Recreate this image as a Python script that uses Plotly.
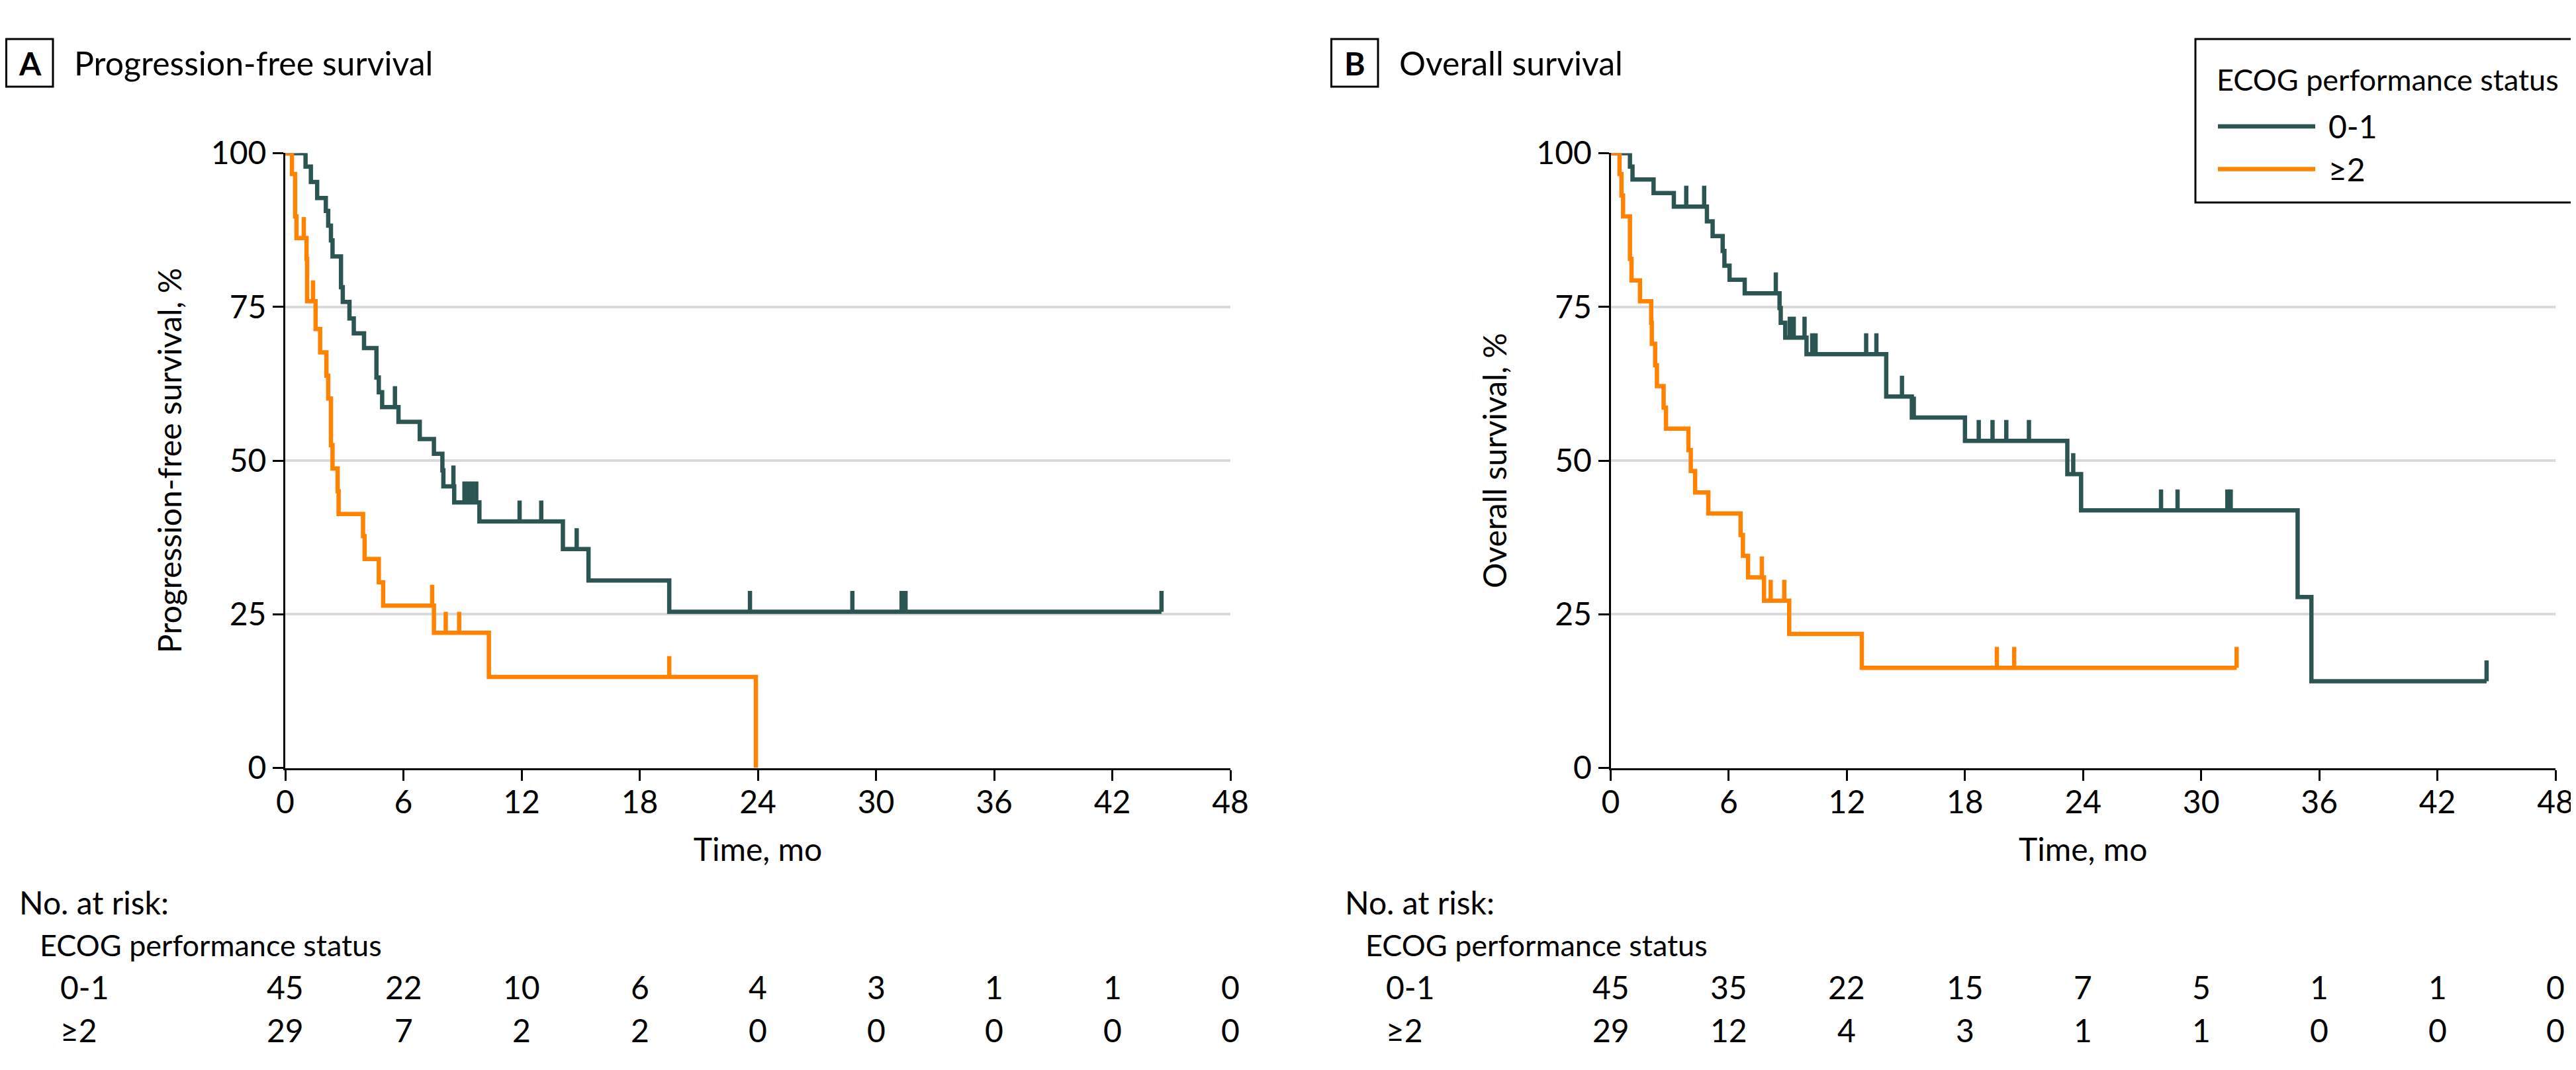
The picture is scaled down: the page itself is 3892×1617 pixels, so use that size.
import plotly.graph_objects as go

# ---------------- data ----------------
time_ticks = [0, 6, 12, 18, 24, 30, 36, 42, 48]
y_ticks = [0, 25, 50, 75, 100]
groups = ["0-1", "≥2"]
legend_title = "ECOG performance status"

# Progression-free survival, ECOG 0-1
pfs_01_t = [1.03, 1.3, 1.62, 2.06, 2.18, 2.32, 2.40, 2.83, 2.92, 3.26, 3.48, 4.00, 4.63, 4.75,
            4.92, 5.75, 6.83, 7.55, 7.98, 8.03, 8.58, 9.86, 14.1, 15.4, 19.5]
pfs_01_s = [97.8, 95.3, 92.7, 90.6, 88.2, 85.8, 83.2, 78.2, 75.8, 73.1, 70.7, 68.3, 63.5, 61.1,
            58.7, 56.3, 53.5, 51.1, 48.4, 45.8, 43.2, 40.1, 35.6, 30.5, 25.4]
pfs_01_c = [0.7, 0.8, 0.9, 1.0, 5.57, 8.54, 9.1, 9.3, 9.5, 9.7, 11.9, 13.0, 14.8, 23.6, 28.8,
            31.3, 31.5, 44.5]

# Progression-free survival, ECOG >=2
pfs_2_t = [0.34, 0.50, 0.57, 1.08, 1.11, 1.54, 1.77, 2.09, 2.18, 2.32, 2.40, 2.66, 2.71, 3.95,
           4.03, 4.75, 4.97, 7.55, 10.34, 23.9]
pfs_2_s = [96.6, 89.7, 86.2, 82.8, 75.9, 71.4, 67.6, 63.8, 60.1, 52.5, 48.7, 45.0, 41.3, 37.7,
           34.0, 30.2, 26.4, 22.0, 14.8, 0.0]
pfs_2_c = [0.94, 1.41, 7.46, 8.15, 8.83, 19.5]

# Overall survival, ECOG 0-1
os_01_t = [0.98, 1.11, 2.18, 3.21, 4.89, 5.18, 5.69, 5.78, 6.04, 6.81, 8.58, 8.64, 8.87, 9.95,
           14.0, 15.3, 18.0, 23.2, 23.9, 34.9, 35.6]
os_01_s = [97.8, 95.7, 93.5, 91.3, 88.9, 86.5, 84.1, 81.7, 79.4, 77.2, 74.8, 72.4, 70.0, 67.3,
           60.4, 57.0, 53.2, 47.8, 41.9, 27.8, 14.1]
os_01_c = [3.84, 4.75, 8.39, 9.1, 9.3, 9.85, 10.24, 10.41, 12.98, 13.5, 14.8, 15.4, 18.7, 19.4,
           20.1, 21.25, 23.5, 27.96, 28.8, 31.33, 31.5, 44.5]

# Overall survival, ECOG >=2
os_2_t = [0.45, 0.55, 0.63, 0.98, 1.06, 1.49, 2.06, 2.09, 2.26, 2.35, 2.69, 2.81, 3.95, 4.07,
          4.29, 4.96, 6.60, 6.72, 6.98, 7.79, 9.07, 12.76]
os_2_s = [96.6, 93.1, 89.7, 82.8, 79.3, 75.9, 72.4, 69.0, 65.5, 62.1, 58.6, 55.2, 51.7, 48.3,
          44.8, 41.4, 37.9, 34.5, 31.0, 27.2, 21.8, 16.3]
os_2_c = [7.68, 8.13, 8.82, 19.62, 20.5, 31.8]

# Number at risk
risk_pfs_01 = [45, 22, 10, 6, 4, 3, 1, 1, 0]
risk_pfs_2 = [29, 7, 2, 2, 0, 0, 0, 0, 0]
risk_os_01 = [45, 35, 22, 15, 7, 5, 1, 1, 0]
risk_os_2 = [29, 12, 4, 3, 1, 1, 0, 0, 0]

# ---------------- style ----------------
DARK = "#2b5553"
ORANGE = "#ff8200"
COLORS = [DARK, ORANGE]
FONT = "Lato"
FS = 48
FS_SMALL = 45
LW = 6.5
CENSOR_H = 3.4
W, H = 3892, 1617


def step_xy(times, surv, cens):
    end = max(times[-1], max(cens))
    return [0] + times + [end], [100] + surv + [surv[-1]]


def surv_at(times, surv, t):
    val = 100
    for ti, si in zip(times, surv):
        if ti <= t:
            val = si
    return val


fig = go.Figure()

panels = [
    ("x", "y", [(pfs_01_t, pfs_01_s, pfs_01_c, DARK, groups[0]),
                (pfs_2_t, pfs_2_s, pfs_2_c, ORANGE, groups[1])]),
    ("x2", "y2", [(os_01_t, os_01_s, os_01_c, DARK, groups[0]),
                  (os_2_t, os_2_s, os_2_c, ORANGE, groups[1])]),
]

for xa, ya, curves in panels:
    for t, s, c, col, name in curves:
        sx, sy = step_xy(t, s, c)
        fig.add_trace(go.Scatter(
            x=sx, y=sy, mode="lines", line=dict(color=col, width=LW, shape="hv"),
            name=name, legendgroup=name, showlegend=False, xaxis=xa, yaxis=ya,
            cliponaxis=False, hoverinfo="skip"))
        fig.add_trace(go.Scatter(
            x=c, y=[surv_at(t, s, ci) for ci in c], mode="markers",
            marker=dict(size=1, color=col, opacity=0),
            error_y=dict(type="constant", value=CENSOR_H, symmetric=False, valueminus=0,
                         thickness=LW, width=0, color=col),
            name=name + " censored", showlegend=False, legendgroup=name, xaxis=xa, yaxis=ya,
            cliponaxis=False, hoverinfo="skip"))

px = lambda v: v / W
py = lambda v: 1 - v / H

xdomA = [px(423), px(1851)]
xdomB = [px(2425.5), px(3853)]
ydom = [py(1152.6), py(223.4)]

tfont = dict(family=FONT, size=FS, color="black")
axis_common = dict(showline=True, linecolor="black", linewidth=3, ticks="outside",
                   ticklen=16, tickwidth=3, tickcolor="black", zeroline=False,
                   tickfont=tfont)
xcommon = dict(axis_common, range=[0, 48], tickvals=time_ticks, showgrid=False,
               ticklabelstandoff=-8,
               title=dict(text="Time, mo", font=tfont, standoff=30))
ycommon = dict(axis_common, range=[0, 100], tickvals=y_ticks, showgrid=True,
               gridcolor="#d9d9d9", gridwidth=4, domain=ydom)

fig.update_layout(
    width=W, height=H, margin=dict(l=0, r=0, t=0, b=0, autoexpand=False),
    paper_bgcolor="white", plot_bgcolor="white",
    font=tfont,
    xaxis=dict(xcommon, domain=xdomA, anchor="y"),
    yaxis=dict(ycommon, anchor="x",
               title=dict(text="Progression-free survival, %", font=tfont, standoff=30)),
    xaxis2=dict(xcommon, domain=xdomB, anchor="y2"),
    yaxis2=dict(ycommon, anchor="x2",
                title=dict(text="Overall survival, %", font=tfont, standoff=30)),
    showlegend=False,
)

shapes = []
annotations = []

# panel labels
for left, letter, title in [(0, "A", "Progression-free survival"),
                            (2002, "B", "Overall survival")]:
    shapes.append(dict(type="rect", xref="paper", yref="paper",
                       x0=px(left + 1.5), x1=px(left + 72), y0=py(123), y1=py(51),
                       line=dict(color="black", width=3)))
    annotations.append(dict(text="<b>%s</b>" % letter, xref="paper", yref="paper",
                            x=px(left + 37), y=py(87), xanchor="center", yanchor="middle",
                            showarrow=False, font=dict(family=FONT, size=FS, color="black")))
    annotations.append(dict(text=title, xref="paper", yref="paper",
                            x=px(left + 102), y=py(87), xanchor="left", yanchor="middle",
                            showarrow=False, font=dict(family=FONT, size=FS + 2, color="black")))

# legend (drawn box, sample lines and labels)
shapes.append(dict(type="rect", xref="paper", yref="paper",
                   x0=px(3309), x1=px(3890), y0=py(298), y1=py(51),
                   line=dict(color="black", width=3), fillcolor="white", layer="above"))
annotations.append(dict(text=legend_title, xref="paper", yref="paper",
                        x=px(3339), y=py(112), xanchor="left", yanchor="middle",
                        showarrow=False, font=dict(family=FONT, size=FS_SMALL, color="black")))
for gname, col, yy in zip(groups, COLORS, [183, 247.5]):
    shapes.append(dict(type="line", xref="paper", yref="paper",
                       x0=px(3343), x1=px(3490), y0=py(yy), y1=py(yy),
                       line=dict(color=col, width=6.7), layer="above"))
    annotations.append(dict(text=gname, xref="paper", yref="paper",
                            x=px(3508), y=py(yy), xanchor="left", yanchor="middle",
                            showarrow=False))

# risk tables
for xref, dx, r01, r2 in [("x", 0, risk_pfs_01, risk_pfs_2), ("x2", 2002.5, risk_os_01, risk_os_2)]:
    annotations.append(dict(text="No. at risk:", xref="paper", yref="paper",
                            x=px(dx + 19), y=py(1355), xanchor="left", yanchor="middle",
                            showarrow=False))
    annotations.append(dict(text=legend_title, xref="paper", yref="paper",
                            x=px(dx + 50), y=py(1420), xanchor="left", yanchor="middle",
                            showarrow=False,
                            font=dict(family=FONT, size=FS_SMALL, color="black")))
    for gname, row, yy in [(groups[0], r01, 1483), (groups[1], r2, 1548)]:
        annotations.append(dict(text=gname, xref="paper", yref="paper",
                                x=px(dx + 81), y=py(yy), xanchor="left", yanchor="middle",
                                showarrow=False))
        for tv, n in zip(time_ticks, row):
            annotations.append(dict(text=str(n), xref=xref, yref="paper", x=tv, y=py(yy),
                                    xanchor="center", yanchor="middle", showarrow=False))

fig.update_layout(shapes=shapes, annotations=annotations)
fig.write_html("out.html")
